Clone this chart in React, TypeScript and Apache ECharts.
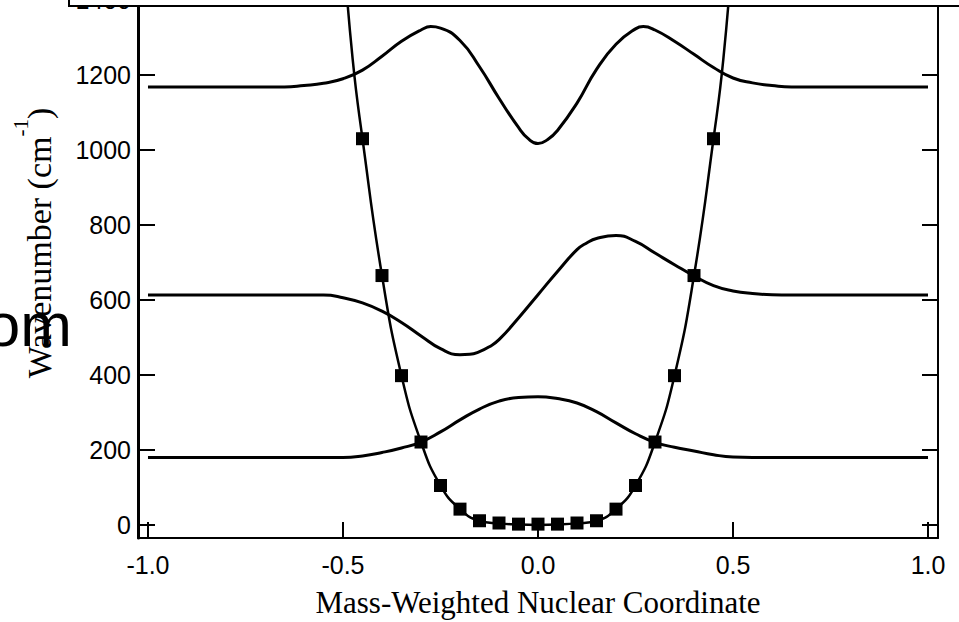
import React, { useEffect, useRef } from "react";
import * as echarts from "echarts";

// Tick values
const xTickValues = [-1, -0.5, 0, 0.5, 1];
const yTickValues = [0, 200, 400, 600, 800, 1000, 1200, 1400];

// Ground state wavefunction (offset 180)
const psi0: [number, number][] = [
  [-1, 180], [-0.5, 180], [-0.45, 184], [-0.4, 193], [-0.35, 205], [-0.3, 221],
  [-0.25, 248], [-0.2, 280], [-0.15, 309], [-0.1, 330], [-0.05, 340], [0, 342],
  [0.05, 337], [0.1, 325], [0.15, 302], [0.2, 272], [0.25, 243], [0.3, 220],
  [0.35, 207], [0.4, 197], [0.45, 187], [0.5, 181], [0.55, 180], [1, 180],
];

// First excited state wavefunction (offset 612)
const psi1: [number, number][] = [
  [-1, 613], [-0.55, 613], [-0.5, 606], [-0.45, 592], [-0.4, 570], [-0.35, 540],
  [-0.3, 504], [-0.25, 470], [-0.2, 454], [-0.175, 455], [-0.15, 462], [-0.125, 475],
  [-0.1, 494], [-0.05, 552], [0, 614], [0.05, 676], [0.1, 734], [0.125, 752],
  [0.15, 764], [0.2, 772], [0.25, 756], [0.3, 725], [0.35, 694], [0.4, 664],
  [0.45, 638], [0.5, 624], [0.55, 617], [0.6, 614], [0.65, 613], [1, 613],
];

// Second excited state wavefunction (offset 1168)
const psi2: [number, number][] = [
  [-1, 1168], [-0.65, 1168], [-0.6, 1172], [-0.55, 1178], [-0.5, 1190], [-0.45, 1213],
  [-0.4, 1250], [-0.35, 1290], [-0.3, 1320], [-0.275, 1329], [-0.25, 1325],
  [-0.2, 1292], [-0.15, 1222], [-0.1, 1138], [-0.05, 1060], [-0.025, 1030], [0, 1017],
  [0.025, 1028], [0.05, 1052], [0.1, 1125], [0.15, 1215], [0.2, 1282], [0.25, 1323],
  [0.27, 1329], [0.3, 1320], [0.35, 1290], [0.4, 1255], [0.45, 1220], [0.5, 1192],
  [0.55, 1179], [0.6, 1172], [0.65, 1168], [1, 1168],
];

// Potential energy curve
const potentialLine: [number, number][] = [
  [-0.5, 1550], [-0.475, 1240], [-0.45, 1030], [-0.4, 665], [-0.35, 398], [-0.3, 221],
  [-0.25, 105], [-0.2, 42], [-0.15, 11], [-0.1, 4], [-0.05, 1], [0, 0], [0.05, 1],
  [0.1, 4], [0.15, 11], [0.2, 42], [0.25, 105], [0.3, 221], [0.35, 398], [0.4, 665],
  [0.45, 1030], [0.475, 1240], [0.5, 1550],
];

// Computed potential points (markers)
const potentialPoints: [number, number][] = [
  [-0.45, 1030], [-0.4, 665], [-0.35, 398], [-0.3, 221], [-0.25, 105], [-0.2, 42],
  [-0.15, 11], [-0.1, 5], [-0.05, 2], [0, 2], [0.05, 2], [0.1, 5], [0.15, 11],
  [0.2, 42], [0.25, 105], [0.3, 221], [0.35, 398], [0.4, 665], [0.45, 1030],
];

const SANS = "'Liberation Sans', Arial, sans-serif";
const SERIF = "'Liberation Serif', 'Times New Roman', serif";

export default function App() {
  const ref = useRef<HTMLDivElement>(null);
  useEffect(() => {
    if (!ref.current) return;
    const chart = echarts.init(ref.current, undefined, { renderer: "svg" });
    const lineSeries = (data: [number, number][], width: number) => ({
      type: "line",
      data,
      smooth: 0.5,
      showSymbol: false,
      symbol: "none",
      lineStyle: { color: "#000", width },
      itemStyle: { color: "#000" },
      z: 3,
    });
    chart.setOption({
      animation: false,
      backgroundColor: "#fff",
      grid: {
        left: 138, right: 21, top: 0, bottom: 84,
        containLabel: false, outerBoundsMode: "none",
      },
      xAxis: {
        type: "value",
        min: -1.0256,
        max: 1.0256,
        name: "Mass-Weighted Nuclear Coordinate",
        nameLocation: "middle",
        nameGap: 49,
        nameTextStyle: { fontFamily: SERIF, fontSize: 31, color: "#000", lineHeight: 31 },
        axisLine: { show: true, onZero: false, lineStyle: { color: "#000", width: 2 } },
        axisTick: {
          show: true, inside: true, length: 16, customValues: xTickValues,
          lineStyle: { color: "#000", width: 2 },
        },
        axisLabel: {
          customValues: xTickValues,
          formatter: (v: number) => v.toFixed(1),
          fontFamily: SANS, fontSize: 25, color: "#000", margin: 14, lineHeight: 25,
        },
        splitLine: { show: false },
      },
      yAxis: [
        {
          type: "value",
          min: -35,
          max: 1400,
          position: "left",
          axisLine: { show: true, onZero: false, lineStyle: { color: "#000", width: 3 } },
          axisTick: {
            show: true, inside: true, length: 17, customValues: yTickValues,
            lineStyle: { color: "#000", width: 2 },
          },
          axisLabel: {
            customValues: yTickValues,
            formatter: (v: number) => String(v),
            fontFamily: SANS, fontSize: 25, color: "#000", margin: 7,
          },
          splitLine: { show: false },
        },
        {
          type: "value",
          min: -35,
          max: 1400,
          position: "right",
          axisLine: { show: true, onZero: false, lineStyle: { color: "#000", width: 2 } },
          axisTick: {
            show: true, inside: true, length: 16, customValues: yTickValues,
            lineStyle: { color: "#000", width: 2 },
          },
          axisLabel: { show: false },
          splitLine: { show: false },
        },
      ],
      series: [
        lineSeries(psi0, 3),
        lineSeries(psi1, 3),
        lineSeries(psi2, 3),
        lineSeries(potentialLine, 2.5),
        {
          type: "scatter",
          data: potentialPoints,
          symbol: "rect",
          symbolSize: 13,
          itemStyle: { color: "#000", opacity: 1 },
          z: 4,
        },
      ],
      graphic: {
        elements: [
          {
            type: "text",
            x: 72,
            y: 324,
            z: 50,
            style: {
              text: "om",
              align: "right",
              verticalAlign: "middle",
              fontFamily: SANS,
              fontSize: 62,
              fill: "#000",
            },
          },
          {
            type: "text",
            x: 39,
            y: 243,
            rotation: Math.PI / 2,
            z: 51,
            style: {
              text: "{m|Wavenumber (cm}{s|-1}{m|)}",
              align: "center",
              verticalAlign: "middle",
              rich: {
                m: { fontFamily: SERIF, fontSize: 34, lineHeight: 58, fill: "#000" },
                s: { fontFamily: SERIF, fontSize: 21, lineHeight: 21, verticalAlign: "top", fill: "#000" },
              },
            },
          },
          {
            type: "rect",
            z: 100,
            z2: 100,
            shape: { x: 69, y: -10, width: 920, height: 16 },
            style: { fill: "#ffffff", stroke: "#000", lineWidth: 2 },
          },
        ],
      },
    });
    return () => chart.dispose();
  }, []);
  return (
    <div
      ref={ref}
      style={{ position: "fixed", left: 0, top: 0, width: 959, height: 622, background: "#fff" }}
    />
  );
}
